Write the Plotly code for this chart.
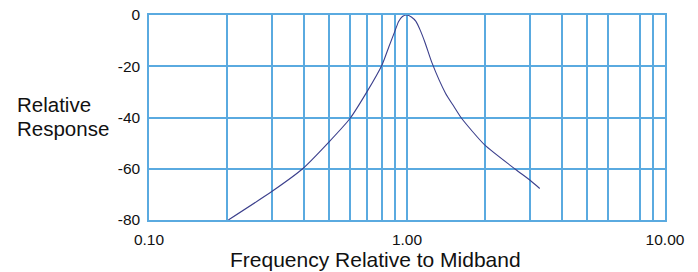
import plotly.graph_objects as go

# Curve data
freq = [0.203, 0.3, 0.394, 0.5, 0.6, 0.7, 0.8, 0.85, 0.9, 0.928, 0.96, 1.0, 1.04, 1.083, 1.126, 1.177, 1.25, 1.41, 1.52, 1.63, 2.0, 2.63, 3.0, 3.27]
response = [-80, -68.8, -60, -49.4, -40.5, -29.9, -19.5, -12.5, -6.0, -2.5, -0.6, 0.0, -0.8, -2.5, -6.0, -11.0, -18.7, -30.5, -35.7, -40.4, -50.7, -60.2, -64.5, -67.7]

# Grid / tick values
x_grid = [0.1, 0.2, 0.3, 0.4, 0.5, 0.6, 0.7, 0.8, 0.9, 1.0, 2, 3, 4, 5, 6, 8, 9, 10]
x_labels = {0.1: "0.10", 1.0: "1.00", 10: "10.00"}
y_ticks = [-80, -60, -40, -20, 0]

grid_color = "#5aaae0"
FONT = "Liberation Sans, Arial, Helvetica, sans-serif"

fig = go.Figure()
fig.add_trace(go.Scatter(
    x=freq, y=response, mode="lines",
    line=dict(color="#3b3f8c", width=1.1, shape="spline", smoothing=0.6),
    hoverinfo="skip", showlegend=False, cliponaxis=False,
))

fig.update_layout(
    width=698, height=272,
    margin=dict(l=149, r=33, t=15, b=52),
    paper_bgcolor="white", plot_bgcolor="white",
    font=dict(family=FONT, color="#111111"),
    hovermode=False,
    annotations=[
        dict(text="Relative", xref="paper", yref="paper",
             x=-0.2597, y=0.562, xanchor="left", yanchor="middle",
             showarrow=False, font=dict(size=20.5)),
        dict(text="Response", xref="paper", yref="paper",
             x=-0.2597, y=0.447, xanchor="left", yanchor="middle",
             showarrow=False, font=dict(size=20.5)),
        dict(text="Frequency Relative to Midband", xref="paper", yref="paper",
             x=0.438, y=-0.195, xanchor="center", yanchor="middle",
             showarrow=False, font=dict(size=21)),
    ],
)

fig.update_xaxes(
    type="log", range=[-1, 1], automargin=False,
    tickvals=x_grid,
    ticktext=[x_labels.get(v, "") for v in x_grid],
    ticks="", tickfont=dict(size=15.5), ticklabelstandoff=5,
    showgrid=True, gridcolor=grid_color, gridwidth=1.5,
    showline=True, linecolor=grid_color, linewidth=1.5, mirror=True,
    zeroline=False,
)
fig.update_yaxes(
    range=[-80, 0], automargin=False,
    tickvals=y_ticks, ticktext=[str(v) for v in y_ticks],
    ticks="", tickfont=dict(size=15.5), ticklabelstandoff=4,
    showgrid=True, gridcolor=grid_color, gridwidth=1.5,
    showline=True, linecolor=grid_color, linewidth=1.5, mirror=True,
    zeroline=False,
)

fig.write_html("out.html", config={"displayModeBar": False},
               post_script="document.body.style.margin='0';")
